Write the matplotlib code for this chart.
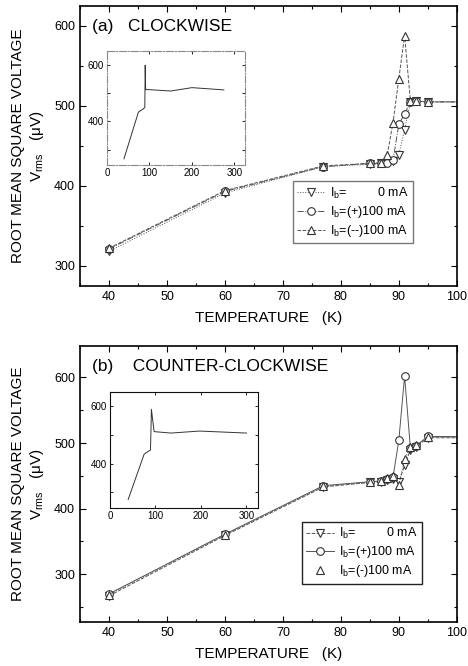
import numpy as np
import matplotlib
matplotlib.use("Agg")
import matplotlib.pyplot as plt
from matplotlib.ticker import MultipleLocator

plt.rcParams['font.family'] = ['Liberation Sans', 'DejaVu Sans']
plt.rcParams['mathtext.fontset'] = 'custom'
plt.rcParams['mathtext.rm'] = 'Liberation Sans'
plt.rcParams['mathtext.it'] = 'Liberation Sans'

# -----------------------------
# Data
# -----------------------------
temp = [40, 60, 77, 85, 87, 88, 89, 90, 91, 92, 93, 95, 150]

# (a) clockwise
cw_zero = [318, 391, 424, 427, 428, 428, 431, 439, 470, 505, 506, 505, 505]
cw_plus = [321, 393, 424, 428, 428, 428, 432, 477, 490, 505, 506, 505, 505]
cw_minus = [322, 394, 425, 428, 429, 439, 479, 534, 588, 506, 506, 505, 505]

# (b) counter-clockwise
ccw_zero = [267, 359, 433, 440, 441, 443, 445, 440, 466, 490, 494, 508, 508]
ccw_plus = [270, 361, 435, 441, 442, 445, 448, 504, 602, 492, 496, 510, 508]
ccw_minus = [269, 360, 434, 440, 442, 446, 450, 436, 476, 494, 497, 509, 508]

# insets (full temperature range)
inset_a_t = [40, 74, 86, 89, 90, 91, 98, 150, 200, 275]
inset_a_v = [267, 433, 445, 450, 600, 513, 513, 508, 520, 512]
inset_b_t = [40, 75, 86, 89, 90, 91, 97, 134, 197, 300]
inset_b_v = [275, 433, 445, 448, 510, 590, 512, 507, 514, 507]

labels_a = ["I$_\\mathrm{b}$=         0 mA", "I$_\\mathrm{b}$=(+)100 mA",
            "I$_\\mathrm{b}$=(--)100 mA"]
labels_b = ["I$_\\mathrm{b}$=         0 mA", "I$_\\mathrm{b}$=(+)100 mA",
            "I$_\\mathrm{b}$=(-)100 mA"]

fig = plt.figure(figsize=(4.68, 6.66), dpi=100)


def style_main(ax, ylim):
    ax.set_xlim(35, 100)
    ax.set_ylim(*ylim)
    ax.xaxis.set_major_locator(MultipleLocator(10))
    ax.xaxis.set_minor_locator(MultipleLocator(5))
    ax.yaxis.set_major_locator(MultipleLocator(100))
    ax.yaxis.set_minor_locator(MultipleLocator(50))
    ax.tick_params(which='both', direction='in', top=True, right=True,
                   labelsize=9, width=0.8)
    ax.tick_params(which='major', length=4)
    ax.tick_params(which='minor', length=2.5)
    for s in ax.spines.values():
        s.set_linewidth(1.2)
    ax.set_xlabel("TEMPERATURE   (K)", fontsize=11, labelpad=6)
    ax.set_ylabel("ROOT MEAN SQUARE VOLTAGE\nV$_\\mathrm{rms}$   (\u03bcV)",
                  fontsize=11, linespacing=1.25, labelpad=6)


def style_inset(ax, frame_color, frame_style):
    ax.set_xlim(0, 325)
    ax.set_ylim(245, 650)
    ax.set_xticks([0, 100, 200, 300])
    ax.set_yticks([400, 600])
    ax.yaxis.set_minor_locator(MultipleLocator(100))
    ax.tick_params(which='both', direction='in', top=True, right=True,
                   labelsize=7, length=2.5, width=0.6, pad=2)
    for s in ax.spines.values():
        s.set_linewidth(0.8)
        s.set_color(frame_color)
        s.set_linestyle(frame_style)


mk = dict(markersize=5.5, markerfacecolor='white', markeredgecolor='#333333',
          markeredgewidth=0.8, color='#555555', linewidth=0.7)

# -----------------------------
# (a) CLOCKWISE
# -----------------------------
ax1 = fig.add_axes([0.171, 0.571, 0.805, 0.420])
ax1.plot(temp, cw_zero, marker='v', linestyle=':', label=labels_a[0], **mk)
ax1.plot(temp, cw_plus, marker='o', linestyle='-.', label=labels_a[1], **mk)
ax1.plot(temp, cw_minus, marker='^', linestyle='--', label=labels_a[2], **mk)
style_main(ax1, (275, 625))
ax1.text(0.033, 0.925, "(a)   CLOCKWISE", transform=ax1.transAxes,
         fontsize=12.5, va='center')
leg1 = ax1.legend(loc='lower right', bbox_to_anchor=(0.9, 0.129),
                  fontsize=9, handlelength=2.2, handletextpad=0.4,
                  borderpad=0.35, labelspacing=0.25, fancybox=False,
                  framealpha=1)
leg1.get_frame().set_edgecolor('#777777')
leg1.get_frame().set_linewidth(1.0)

ins1 = fig.add_axes([0.2286, 0.7523, 0.295, 0.171])
ins1.plot(inset_a_t, inset_a_v, color='#333333', linewidth=0.7)
style_inset(ins1, '#888888', '-.')

# -----------------------------
# (b) COUNTER-CLOCKWISE
# -----------------------------
ax2 = fig.add_axes([0.171, 0.066, 0.805, 0.4145])
ax2.plot(temp, ccw_zero, marker='v', linestyle='--', label=labels_b[0], **mk)
ax2.plot(temp, ccw_plus, marker='o', linestyle='-', label=labels_b[1], **mk)
ax2.plot(temp, ccw_minus, marker='^', linestyle=':', **mk)
ax2.plot([], [], marker='^', linestyle='none', label=labels_b[2], **mk)
style_main(ax2, (227, 648))
ax2.text(0.033, 0.925, "(b)    COUNTER-CLOCKWISE", transform=ax2.transAxes,
         fontsize=12.5, va='center')
leg2 = ax2.legend(loc='lower right', bbox_to_anchor=(0.923, 0.116),
                  fontsize=9, handlelength=2.2, handletextpad=0.4,
                  borderpad=0.35, labelspacing=0.25, fancybox=False,
                  framealpha=1)
leg2.get_frame().set_edgecolor('#222222')
leg2.get_frame().set_linewidth(1.0)

ins2 = fig.add_axes([0.235, 0.2372, 0.316, 0.174])
ins2.plot(inset_b_t, inset_b_v, color='#333333', linewidth=0.7)
style_inset(ins2, '#111111', '-')

fig.savefig("out.png", dpi=100)
